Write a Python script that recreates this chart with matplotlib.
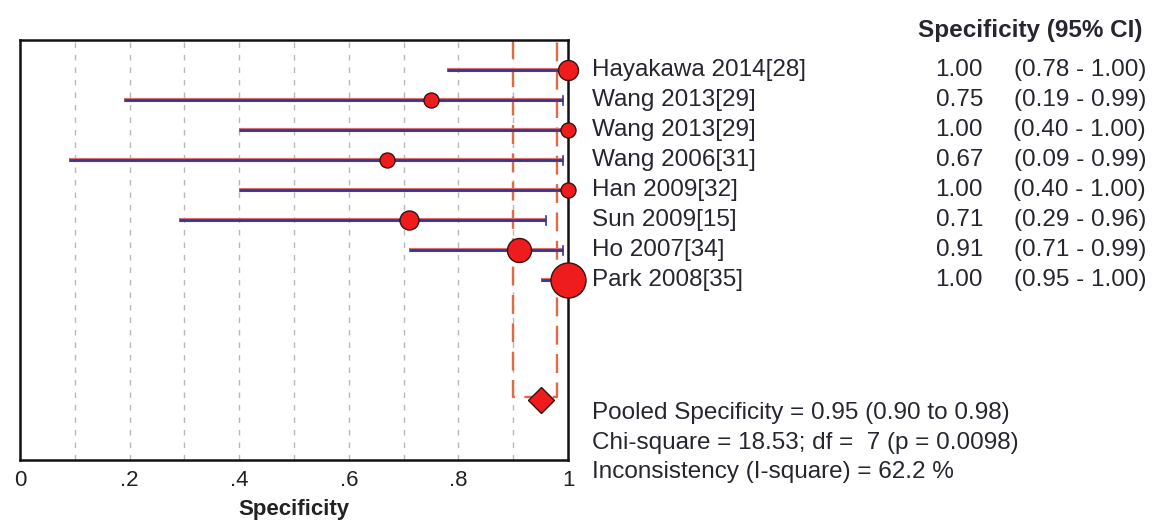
import matplotlib
matplotlib.use("Agg")
import matplotlib.pyplot as plt

studies = ["Hayakawa 2014[28]", "Wang 2013[29]", "Wang 2013[29]", "Wang 2006[31]",
           "Han 2009[32]", "Sun 2009[15]", "Ho 2007[34]", "Park 2008[35]"]
spec = [1.00, 0.75, 1.00, 0.67, 1.00, 0.71, 0.91, 1.00]
lower = [0.78, 0.19, 0.40, 0.09, 0.40, 0.29, 0.71, 0.95]
upper = [1.00, 0.99, 1.00, 0.99, 1.00, 0.96, 0.99, 1.00]
weights = [20, 15, 15, 15, 15, 19, 24, 35]  # relative marker size
pooled = 0.95
pooled_lo = 0.90
pooled_hi = 0.98
stats_lines = ["Pooled Specificity = 0.95 (0.90 to 0.98)",
               "Chi-square = 18.53; df =  7 (p = 0.0098)",
               "Inconsistency (I-square) = 62.2 %"]
xticks = [0, 0.2, 0.4, 0.6, 0.8, 1.0]
xticklabels = ["0", ".2", ".4", ".6", ".8", "1"]

plt.rcParams['font.family'] = ['Liberation Sans', 'DejaVu Sans']

fig = plt.figure(figsize=(11.59, 5.2), dpi=100)
ax = fig.add_axes([20/1159, 1-460/520, 548/1159, 420/520])
ax.set_xlim(0, 1)
ax.set_ylim(14, 0)

for g in [i/10 for i in range(1, 10)]:
    ax.axvline(g, color='#b8b8b8', ls=(0, (4, 5)), lw=1, zorder=1)

pooled_row = 12
# pooled CI bracket
ax.plot([pooled_lo, pooled_lo, pooled_hi, pooled_hi], [0, pooled_row - 0.1, pooled_row - 0.1, 0],
        color='#df6a45', ls=(0, (8, 4)), lw=1.7, zorder=2)

rows = list(range(1, len(studies) + 1))
for r, s, lo, hi, w in zip(rows, spec, lower, upper, weights):
    ax.plot([lo, hi], [r, r], color='#e07070', lw=3.0, zorder=3, solid_capstyle='butt')
    ax.plot([lo, hi], [r, r], color='#2f3a92', lw=2.0, zorder=4, solid_capstyle='butt')
    ax.plot([hi, hi], [r - 0.15, r + 0.15], color='#2f3a92', lw=1.2, zorder=4)
    ax.plot([s], [r], marker='o', ms=w * 0.72, mfc='#ee1c1c', mec='#3a1010',
            mew=1.0, zorder=5, clip_on=False)

ax.plot([pooled], [pooled_row], marker='D', ms=13, mfc='#ee1c1c', mec='#3a1010',
        mew=1.0, zorder=5)

for sp in ax.spines.values():
    sp.set_linewidth(1.8)
    sp.set_color('#111111')

ax.set_yticks([])
ax.set_xticks(xticks)
ax.set_xticklabels(xticklabels, fontsize=16, color='#222222')
ax.tick_params(axis='x', length=0, pad=7)
ax.set_xlabel("Specificity", fontsize=16, fontweight='bold', color='#222222', labelpad=6)

txt_color = '#262630'
fs = 17.5
for r, name, s, lo, hi in zip(rows, studies, spec, lower, upper):
    ax.annotate(name, xy=(1, r), xycoords=('axes fraction', 'data'), xytext=(24, 0),
                textcoords='offset pixels', va='center', ha='left', fontsize=fs, color=txt_color)
    ax.annotate(f"{s:.2f}", xy=(983/1159, r), xycoords=('figure fraction', 'data'),
                va='center', ha='right', fontsize=fs, color=txt_color)
    ax.annotate(f"({lo:.2f} - {hi:.2f})", xy=(1146/1159, r), xycoords=('figure fraction', 'data'),
                va='center', ha='right', fontsize=fs, color=txt_color)

fig.text(1143/1159, 1-31/520, "Specificity (95% CI)", ha='right', va='center',
         fontsize=fs, fontweight='bold', color=txt_color)

for i, line in enumerate(stats_lines):
    fig.text(592/1159, 1-(413 + 29.5*i)/520, line, ha='left', va='center',
             fontsize=fs, color=txt_color)

fig.savefig("out.png", dpi=100)
